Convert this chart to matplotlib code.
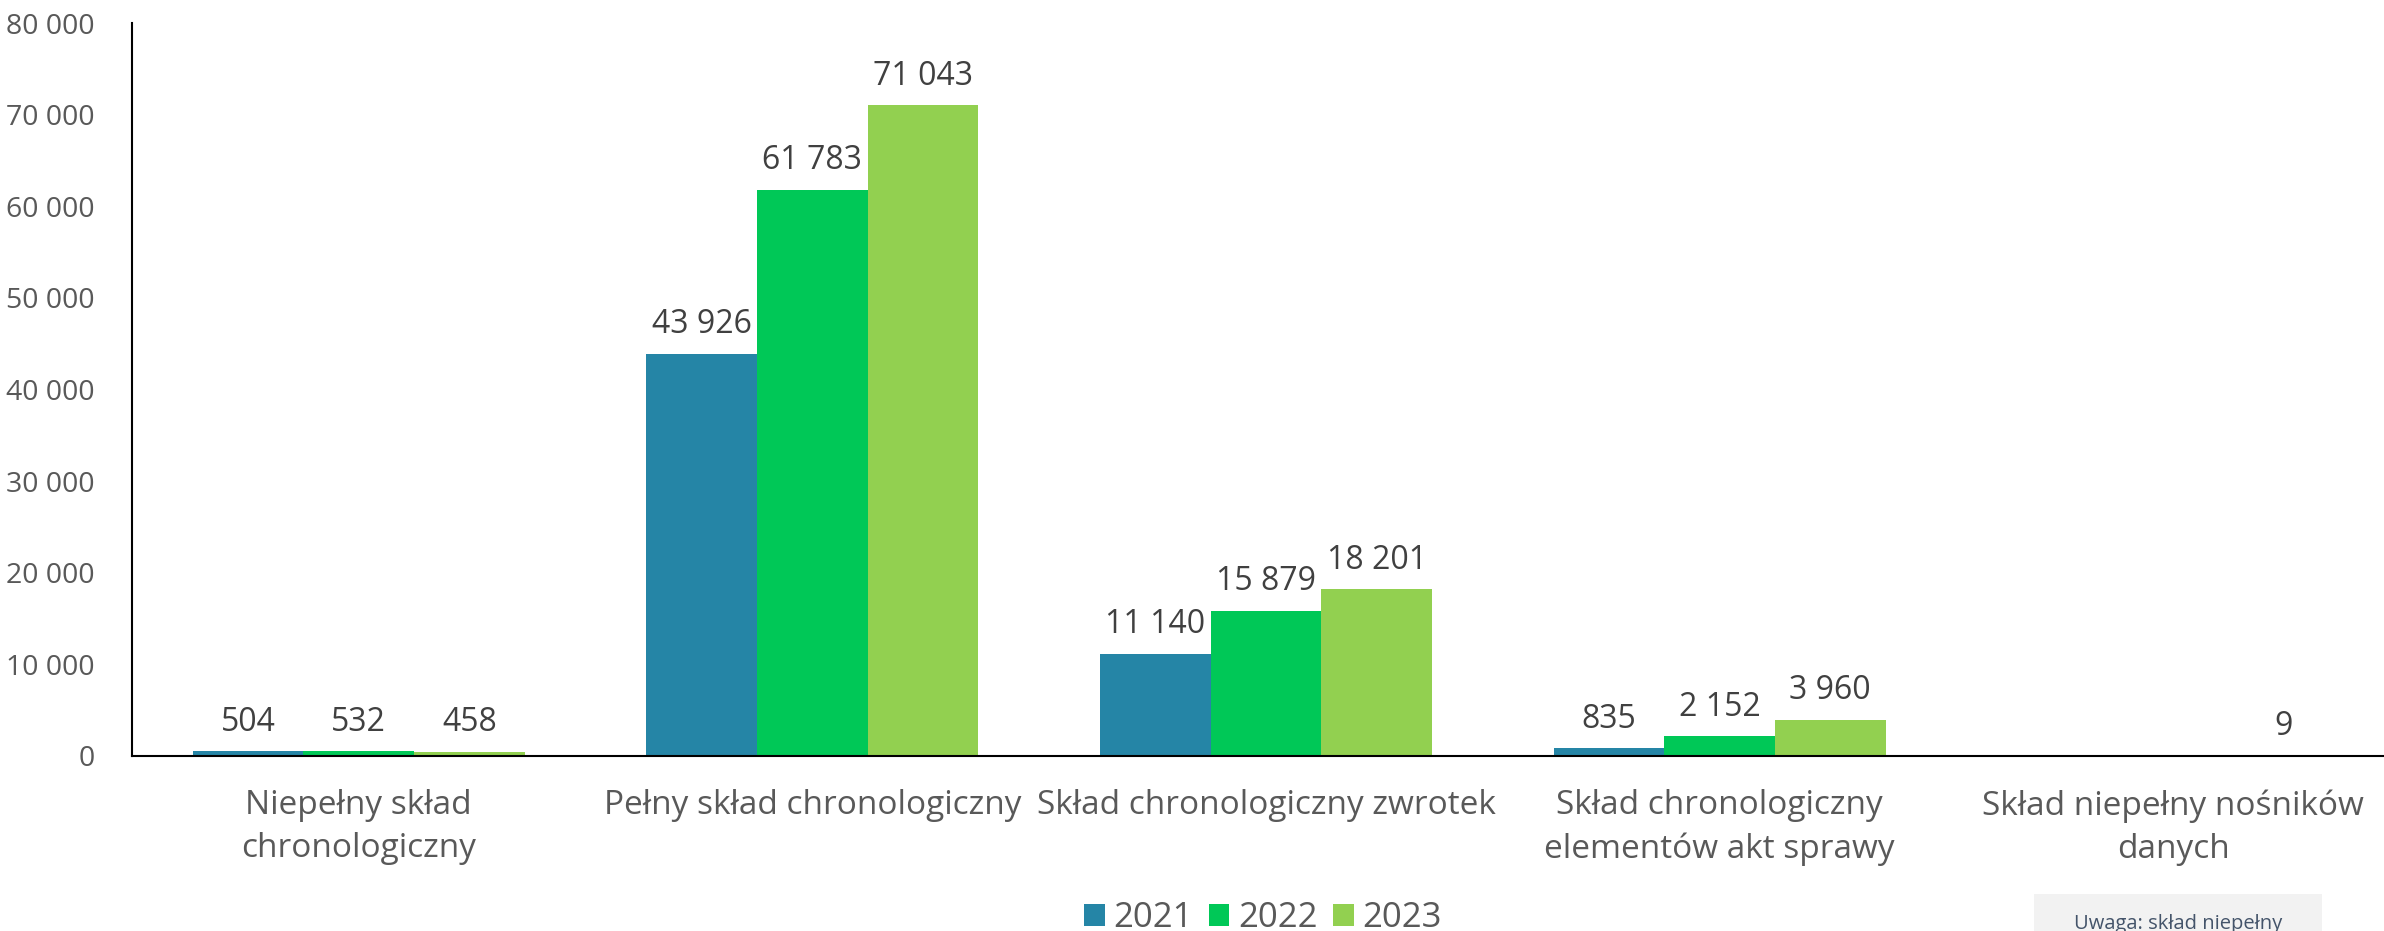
import numpy as np
import matplotlib.pyplot as plt
from matplotlib.patches import Rectangle
from matplotlib.ticker import FuncFormatter

plt.rcParams['font.family'] = ['Open Sans', 'DejaVu Sans']

# data
categories = ['Niepełny skład\nchronologiczny',
              'Pełny skład chronologiczny',
              'Skład chronologiczny zwrotek',
              'Skład chronologiczny\nelementów akt sprawy',
              'Skład niepełny nośników\ndanych']
years = ['2021', '2022', '2023']
v2021 = [504, 43926, 11140, 835, 0]
v2022 = [532, 61783, 15879, 2152, 0]
v2023 = [458, 71043, 18201, 3960, 9]
colors = ['#2585A6', '#00C857', '#92D050']

fig = plt.figure(figsize=(23.84, 9.31), dpi=100)
ax = fig.add_axes([132 / 2384, 1 - 756 / 931, (2400 - 132) / 2384, (756 - 23) / 931])

x = np.arange(len(categories))
w = 1 / (3 + 1.1)
for i, (vals, c, lab) in enumerate(zip([v2021, v2022, v2023], colors, years)):
    pos = x + (i - 1) * w
    bars = ax.bar(pos, vals, width=w, color=c, label=lab, linewidth=0)
    for b, v in zip(bars, vals):
        if v == 0:
            continue
        ax.annotate('{:,}'.format(v).replace(',', ' '),
                    (b.get_x() + b.get_width() / 2, v),
                    xytext=(0, 9), textcoords='offset points',
                    ha='center', va='bottom', fontsize=23, color='#404040')

ax.set_xlim(-0.5, len(categories) - 0.5)
ax.set_ylim(0, 80000)
ax.set_yticks(range(0, 80001, 10000))
ax.yaxis.set_major_formatter(FuncFormatter(lambda v, p: '{:,}'.format(int(v)).replace(',', ' ')))
ax.set_xticks(x)
ax.set_xticklabels(categories, fontsize=24, color='#595959', linespacing=1.4)
ax.tick_params(axis='y', length=0, pad=27, labelsize=20.5, labelcolor='#595959')
ax.tick_params(axis='x', length=0, pad=24)
for s in ['top', 'right']:
    ax.spines[s].set_visible(False)
for s in ['left', 'bottom']:
    ax.spines[s].set_linewidth(1.5)
    ax.spines[s].set_color('black')

fig.legend(loc='center', bbox_to_anchor=(1263 / 2384, 1 - 918 / 931), ncol=3, frameon=False,
           fontsize=25, handlelength=0.6, handleheight=0.6, handletextpad=0.25,
           columnspacing=0.45, labelcolor='#595959')

# note box in bottom-right corner
fig.add_artist(Rectangle((2034 / 2384, 0), (2322 - 2034) / 2384, (931 - 894) / 931,
                         transform=fig.transFigure, facecolor='#F2F2F2', edgecolor='none'))
fig.text(2178 / 2384, 1 - 924 / 931, 'Uwaga: skład niepełny', ha='center', va='center',
         fontsize=14.5, color='#44546A')

plt.savefig('out.png', dpi=100)
